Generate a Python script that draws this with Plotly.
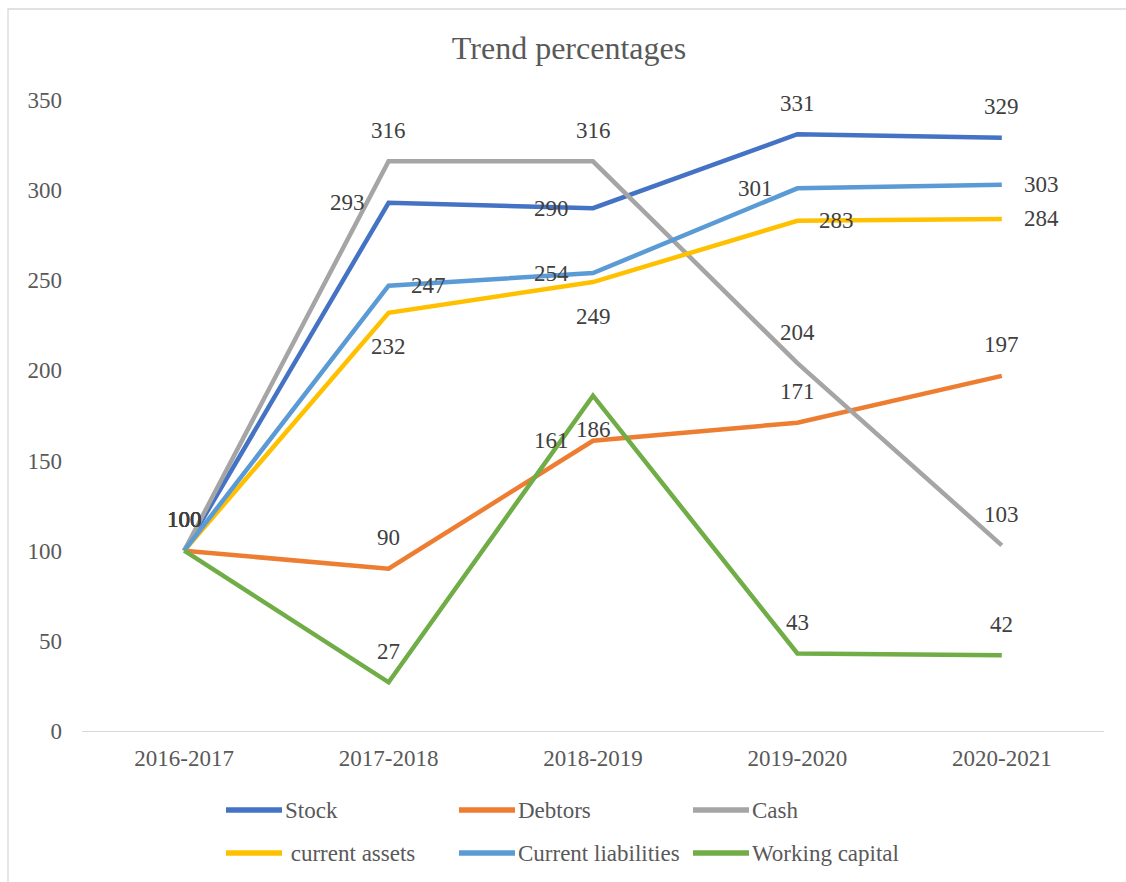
import plotly.graph_objects as go

# Financial years on the category axis
years = ["2016-2017", "2017-2018", "2018-2019", "2019-2020", "2020-2021"]

# Trend percentages (base year 2016-2017 = 100)
stock = [100, 293, 290, 331, 329]
debtors = [100, 90, 161, 171, 197]
cash = [100, 316, 316, 204, 103]
current_assets = [100, 232, 249, 283, 284]
current_liabilities = [100, 247, 254, 301, 303]
working_capital = [100, 27, 186, 43, 42]

series_names = ["Stock", "Debtors", "Cash", " current assets",
                "Current liabilities", "Working capital"]
series_values = [stock, debtors, cash, current_assets,
                 current_liabilities, working_capital]
series_colors = ["#4472C4", "#ED7D31", "#A5A5A5", "#FFC000", "#5B9BD5", "#70AD47"]

# Where each value label sits relative to its point
label_pos = [
    ["above", "left", "left", "above", "above"],
    ["above", "above", "left", "above", "above"],
    ["above", "above", "above", "above", "above"],
    ["above", "below", "below", "right", "right"],
    ["above", "right", "left", "left", "right"],
    ["above", "above", "below", "above", "above"],
]

FONT = "Liberation Serif"
W, H = 1126, 882
ML, MR, MT, MB = 82, 22, 100, 151
PW, PH = W - ML - MR, H - MT - MB


def px(x):
    return (x - ML) / PW


def py(y):
    return (H - MB - y) / PH


fig = go.Figure()

for name, vals, col in zip(series_names, series_values, series_colors):
    fig.add_trace(go.Scatter(
        x=years, y=vals, name=name, mode="lines",
        line=dict(color=col, width=4.5),
        showlegend=False, hoverinfo="x+y+name",
    ))

annotations = []
for vals, poses in zip(series_values, label_pos):
    for xc, v, pos in zip(years, vals, poses):
        a = dict(x=xc, y=v, xref="x", yref="y", text=str(v), showarrow=False,
                 font=dict(family=FONT, size=23, color="#404040"),
                 xanchor="center", yanchor="middle")
        if pos == "above":
            a["yshift"] = 31
        elif pos == "below":
            a["yshift"] = -34
        elif pos == "left":
            a["xanchor"] = "right"
            a["xshift"] = -22
        elif pos == "right":
            a["xanchor"] = "left"
            a["xshift"] = 20
        annotations.append(a)

# Legend drawn as two rows of three entries
legend_cols = [226, 459, 693]
legend_rows = [810, 853]
shapes = []
for i, (name, col) in enumerate(zip(series_names, series_colors)):
    cx = legend_cols[i % 3]
    ry = legend_rows[i // 3]
    shapes.append(dict(type="line", xref="paper", yref="paper",
                       x0=px(cx), x1=px(cx + 56), y0=py(ry), y1=py(ry),
                       line=dict(color=col, width=5.5)))
    annotations.append(dict(x=px(cx + 57), y=py(ry), xref="paper", yref="paper",
                            text=name.replace(" ", "&nbsp;", 1) if name.startswith(" ") else name,
                            showarrow=False, xanchor="left", yanchor="middle",
                            font=dict(family=FONT, size=23, color="#595959")))

# Chart frame
shapes.append(dict(type="rect", xref="paper", yref="paper",
                   x0=px(8), x1=px(W + 20), y0=py(H + 20), y1=py(9),
                   line=dict(color="#D9D9D9", width=1.3), layer="below"))

fig.update_layout(
    width=W, height=H,
    margin=dict(l=ML, r=MR, t=MT, b=MB),
    paper_bgcolor="white", plot_bgcolor="white",
    title=dict(text="Trend percentages", x=569 / W, xref="container", xanchor="center",
               y=1 - 48 / H, yref="container", yanchor="middle",
               font=dict(family=FONT, size=32, color="#595959")),
    xaxis=dict(type="category", range=[-0.5, 4.5], showgrid=False,
               showline=True, linecolor="#D9D9D9", linewidth=1.3,
               ticks="", tickfont=dict(family=FONT, size=23, color="#595959"),
               ticklabelstandoff=6, zeroline=False),
    yaxis=dict(range=[0, 350], dtick=50, showgrid=False, zeroline=False,
               showline=False, ticks="",
               tickfont=dict(family=FONT, size=23, color="#595959"),
               ticklabelstandoff=19),
    annotations=annotations,
    shapes=shapes,
    showlegend=False,
)

fig.write_html("out.html")
